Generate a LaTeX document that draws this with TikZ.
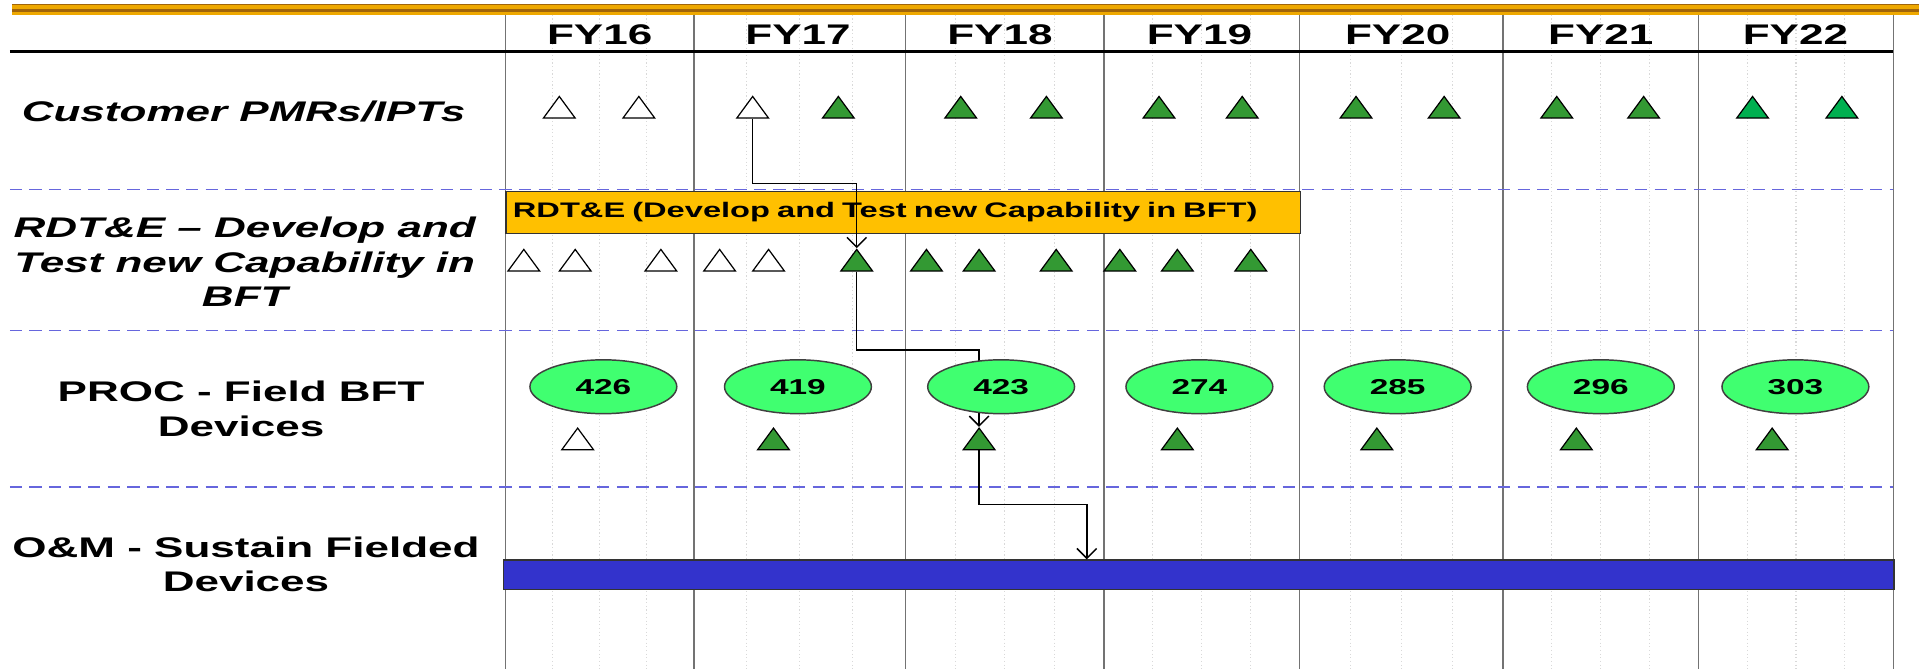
\documentclass[tikz,border=0pt]{standalone}
\usepackage{fontspec}
\setmainfont{Liberation Sans}[FakeStretch=1.55]
\usetikzlibrary{shapes.geometric, arrows.meta}

\definecolor{goldbar}{RGB}{238,168,0}
\definecolor{golddark}{RGB}{160,100,10}
\definecolor{rdteorange}{RGB}{255,192,0}
\definecolor{msgreen}{RGB}{51,153,51}
\definecolor{msgreenb}{RGB}{0,176,80}
\definecolor{lotgreen}{RGB}{64,255,112}
\definecolor{omblue}{RGB}{51,51,204}
\definecolor{rowblue}{RGB}{102,102,221}

\tikzset{
  mstone/.style={regular polygon, regular polygon sides=3, draw=black, line width=0.5pt,
                 inner sep=0pt, minimum size=11.8pt, xscale=1.27, anchor=south},
  lot/.style={ellipse, draw=black!75, line width=0.6pt, fill=lotgreen, inner sep=0pt,
              minimum width=60pt, minimum height=22pt, font=\fontsize{8.8}{10}\selectfont\bfseries},
  fylabel/.style={font=\fontsize{11.6}{14}\selectfont\bfseries},
  rowlabel/.style={align=center, font=\fontsize{11.6}{14}\selectfont\bfseries},
  rowlabelit/.style={align=center, font=\fontsize{11.6}{14}\selectfont\bfseries\itshape},
  link/.style={draw=black, line width=0.6pt, -{Straight Barb[length=4pt, width=8pt]}},
}

\begin{document}
\begin{tikzpicture}[x=0.5pt, y=-0.5pt]
  \useasboundingbox (0,0) rectangle (1568,547);
  \def\ytop{12}
  \def\ybot{547}
  % top border
  \fill[goldbar] (10,3) rectangle (1568,12);
  \draw[golddark, line width=0.6pt] (10,3.5) -- (1568,3.5);
  \draw[golddark, line width=1pt] (10,8.5) -- (1568,8.5);
  % quarter and year grid
  \foreach \xa/\xb in {413/567, 567/740, 740/902, 902/1062, 1062/1228, 1228/1388, 1388/1547}{
    \foreach \k in {1,2,3}
      \draw[black!15, densely dotted, line width=0.5pt] ({\xa+\k*(\xb-\xa)/4},\ytop) -- ({\xa+\k*(\xb-\xa)/4},\ybot);
    \draw[black!55, line width=0.6pt] (\xa,\ytop) -- (\xa,\ybot);
  }
  \draw[black!55, line width=0.6pt] (1547,\ytop) -- (1547,\ybot);
  % header rule and row separators
  \draw[line width=1pt] (8,42) -- (1547,42);
  \foreach \yy in {155,270,398}
    \draw[rowblue, line width=0.6pt, dash pattern=on 5pt off 3pt] (8,\yy) -- (1547,\yy);
  % fiscal years
  \foreach \fy/\xx in {16/490, 17/652, 18/817, 19/980, 20/1142, 21/1308, 22/1467}
    \node[fylabel] (fy\fy) at (\xx,28) {FY\fy};
  % row labels
  \node[rowlabelit] (pmrlbl) at (199,91) {Customer PMRs/IPTs};
  \node[rowlabelit] (rdtelbl) at (200,214) {RDT\&E -- Develop and\\Test new Capability in\\BFT};
  \node[rowlabel] (proclbl) at (197,334) {PROC - Field BFT\\Devices};
  \node[rowlabel] (omlbl) at (201,461) {O\&M - Sustain Fielded\\Devices};
  % bars
  \node[draw=black!80, line width=0.6pt, fill=rdteorange, anchor=north west, minimum height=17pt,
        text width=319pt, inner xsep=2.75pt, inner ysep=0pt, align=left,
        font=\fontsize{8.6}{10}\selectfont\bfseries] (rdte) at (413,156)
        {RDT\&E (Develop and Test new Capability in BFT)};
  \node[draw=black!80, line width=0.6pt, fill=omblue, anchor=north west, minimum width=568pt,
        minimum height=12pt, inner sep=0pt] (om) at (411,457) {};
  % customer reviews
  \foreach \xx/\fc [count=\i] in {457/white, 522/white, 615/white, 685/msgreen, 785/msgreen, 855/msgreen,
      947/msgreen, 1015/msgreen, 1108/msgreen, 1180/msgreen, 1272/msgreen, 1343/msgreen, 1432/msgreenb, 1505/msgreenb}
    \node[mstone, fill=\fc] (c\i) at (\xx,97) {};
  % test events
  \foreach \xx/\fc [count=\i] in {428/white, 470/white, 540/white, 588/white, 628/white, 700/msgreen,
      757/msgreen, 800/msgreen, 863/msgreen, 915/msgreen, 962/msgreen, 1022/msgreen}
    \node[mstone, fill=\fc] (r\i) at (\xx,222) {};
  % fielding
  \foreach \xx/\fc [count=\i] in {472/white, 632/msgreen, 800/msgreen, 962/msgreen, 1125/msgreen, 1288/msgreen, 1448/msgreen}
    \node[mstone, fill=\fc] (p\i) at (\xx,368) {};
  % links
  \coordinate (omtip) at (888,457);
  \draw[link] (c3.south) -- ++(0,53) -| (r6.north);
  \draw[link] (r6.south) -- ++(0,64) -| (p3.north);
  \draw[link] (p3.south) -- ++(0,44) -| (omtip);
  % quantities
  \foreach \xx/\qty [count=\i] in {493/426, 652/419, 818/423, 980/274, 1142/285, 1308/296, 1467/303}
    \node[lot] (lot\i) at (\xx,316) {\qty};
\end{tikzpicture}
\end{document}
